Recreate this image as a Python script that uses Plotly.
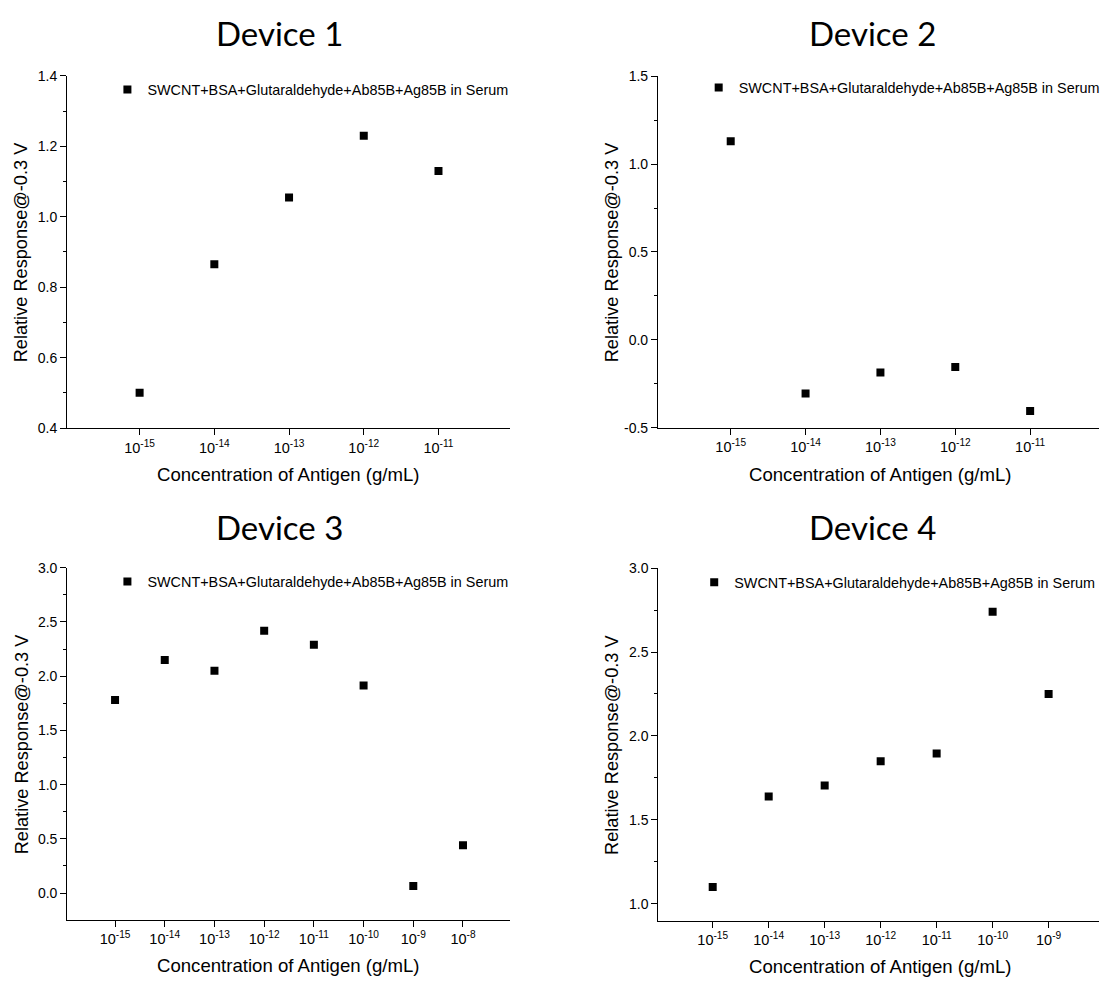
import plotly.graph_objects as go

W, H = 1105, 985

# ---------------- data ----------------
conc_1 = [1e-15, 1e-14, 1e-13, 1e-12, 1e-11]
resp_1 = [0.50, 0.865, 1.055, 1.23, 1.13]

conc_2 = [1e-15, 1e-14, 1e-13, 1e-12, 1e-11]
resp_2 = [1.13, -0.305, -0.185, -0.155, -0.405]

conc_3 = [1e-15, 1e-14, 1e-13, 1e-12, 1e-11, 1e-10, 1e-9, 1e-8]
resp_3 = [1.78, 2.15, 2.05, 2.42, 2.29, 1.915, 0.065, 0.44]

conc_4 = [1e-15, 1e-14, 1e-13, 1e-12, 1e-11, 1e-10, 1e-9]
resp_4 = [1.10, 1.64, 1.705, 1.85, 1.895, 2.74, 2.25]

titles = ["Device 1", "Device 2", "Device 3", "Device 4"]
series_name = "SWCNT+BSA+Glutaraldehyde+Ab85B+Ag85B in Serum"
x_title = "Concentration of Antigen (g/mL)"
y_title = "Relative Response@-0.3 V"

xtick_labels = {1e-15: "10<sup>-15</sup>", 1e-14: "10<sup>-14</sup>", 1e-13: "10<sup>-13</sup>",
                1e-12: "10<sup>-12</sup>", 1e-11: "10<sup>-11</sup>", 1e-10: "10<sup>-10</sup>",
                1e-9: "10<sup>-9</sup>", 1e-8: "10<sup>-8</sup>"}

yticks_1 = [0.4, 0.6, 0.8, 1.0, 1.2, 1.4]
ytext_1 = ["0.4", "0.6", "0.8", "1.0", "1.2", "1.4"]
yticks_2 = [-0.5, 0.0, 0.5, 1.0, 1.5]
ytext_2 = ["-0.5", "0.0", "0.5", "1.0", "1.5"]
yticks_3 = [0.0, 0.5, 1.0, 1.5, 2.0, 2.5, 3.0]
ytext_3 = ["0.0", "0.5", "1.0", "1.5", "2.0", "2.5", "3.0"]
yticks_4 = [1.0, 1.5, 2.0, 2.5, 3.0]
ytext_4 = ["1.0", "1.5", "2.0", "2.5", "3.0"]

# ---------------- layout geometry (pixels) ----------------
panels = [
    dict(l=67.5, r=513, t=69, b=427, xr=[-15.97, -10.04], yr=[0.4, 1.4], mdt=0.1,
         conc=conc_1, resp=resp_1, yt=yticks_1, ytt=ytext_1, leg_x=148, leg_y=83, xc=290),
    dict(l=661.7, r=1105, t=69.3, b=426.7, xr=[-15.97, -10.08], yr=[-0.5, 1.5], mdt=0.25,
         conc=conc_2, resp=resp_2, yt=yticks_2, ytt=ytext_2, leg_x=742.5, leg_y=81, xc=885),
    dict(l=67.7, r=513, t=569, b=926.7, xr=[-15.96, -7.05], yr=[-0.245, 3.0], mdt=0.25,
         conc=conc_3, resp=resp_3, yt=yticks_3, ytt=ytext_3, leg_x=148, leg_y=583, xc=290),
    dict(l=662, r=1105, t=569.3, b=927.7, xr=[-15.97, -8.1], yr=[0.9, 3.0], mdt=0.25,
         conc=conc_4, resp=resp_4, yt=yticks_4, ytt=ytext_4, leg_x=738, leg_y=584, xc=885),
]

FONT = "Arial, Liberation Sans, sans-serif"
fig = go.Figure()
annotations = []
layout = {}

for i, p in enumerate(panels, start=1):
    sfx = "" if i == 1 else str(i)
    legname = "legend" if i == 1 else f"legend{i}"
    fig.add_trace(go.Scatter(
        x=p["conc"], y=p["resp"], mode="markers", name=series_name,
        marker=dict(symbol="square", size=8, color="black"),
        xaxis=f"x{sfx}", yaxis=f"y{sfx}", legend=legname, showlegend=True,
    ))
    layout[f"xaxis{sfx}"] = dict(
        type="log", range=p["xr"], domain=[p["l"] / W, min(p["r"] / W, 1.0)],
        anchor=f"y{sfx}", showgrid=False, zeroline=False,
        showline=True, linecolor="black", linewidth=1.3,
        ticks="outside", ticklen=6, tickwidth=1.2, tickcolor="black",
        tickmode="array", tickvals=p["conc"], ticktext=[xtick_labels[c] for c in p["conc"]],
        tickfont=dict(family=FONT, size=14.5, color="black"),
    )
    layout[f"yaxis{sfx}"] = dict(
        range=p["yr"], domain=[1 - p["b"] / H, 1 - p["t"] / H],
        anchor=f"x{sfx}", showgrid=False, zeroline=False,
        showline=True, linecolor="black", linewidth=1.3,
        ticks="outside", ticklen=6, tickwidth=1.2, tickcolor="black",
        tickmode="array", tickvals=p["yt"], ticktext=p["ytt"],
        tickfont=dict(family=FONT, size=14, color="black"),
        minor=dict(dtick=p["mdt"], tick0=0, ticks="outside", ticklen=3,
                   tickwidth=1.2, tickcolor="black", showgrid=False),
    )
    layout[legname] = dict(
        x=(p["leg_x"] - 40) / W, y=1 - p["leg_y"] / H, xref="paper", yref="paper",
        xanchor="left", yanchor="middle", bgcolor="rgba(0,0,0,0)", borderwidth=0,
        font=dict(family=FONT, size=14.4, color="black"),
    )
    cy = (p["t"] + p["b"]) / 2
    # panel title
    annotations.append(dict(
        text=titles[i - 1], x=(281 if i % 2 == 1 else 877) / W,
        y=1 - (25.5 if i <= 2 else 527.5) / H, xref="paper", yref="paper",
        xanchor="center", yanchor="middle", showarrow=False,
        font=dict(family="Lato, Carlito, sans-serif", size=33, color="black"),
    ))
    # x axis title
    annotations.append(dict(
        text=x_title, x=p["xc"] / W,
        y=1 - (p["b"] + 47) / H, xref="paper", yref="paper",
        xanchor="center", yanchor="middle", showarrow=False,
        font=dict(family=FONT, size=18.6, color="black"),
    ))
    # y axis title
    annotations.append(dict(
        text=y_title, x=(p["l"] - 46) / W, y=1 - cy / H, xref="paper", yref="paper",
        xanchor="center", yanchor="middle", showarrow=False, textangle=-90,
        font=dict(family=FONT, size=18.2, color="black"),
    ))

fig.update_layout(
    width=W, height=H, margin=dict(l=0, r=0, t=0, b=0),
    paper_bgcolor="white", plot_bgcolor="white",
    annotations=annotations, **layout,
)

fig.write_html("out.html")
